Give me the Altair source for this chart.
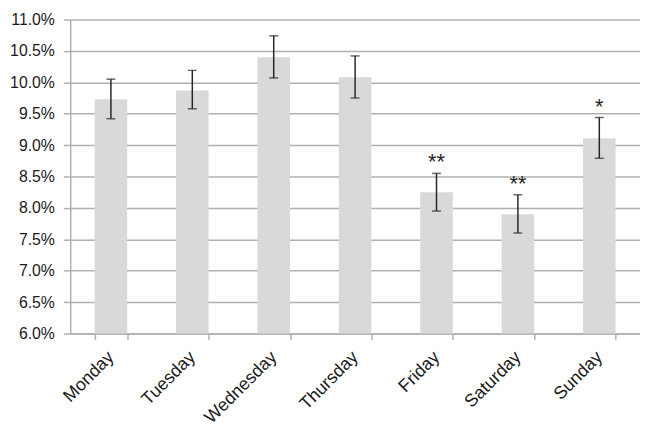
import altair as alt
import pandas as pd

days = ["Monday", "Tuesday", "Wednesday", "Thursday", "Friday", "Saturday", "Sunday"]
means = [9.73, 9.87, 10.40, 10.08, 8.25, 7.90, 9.11]
upper = [10.05, 10.19, 10.74, 10.42, 8.55, 8.21, 9.44]
lower = [9.42, 9.58, 10.07, 9.75, 7.95, 7.60, 8.79]
sig = ["", "", "", "", "**", "**", "*"]
y_ticks = [6.0, 6.5, 7.0, 7.5, 8.0, 8.5, 9.0, 9.5, 10.0, 10.5, 11.0]

df = pd.DataFrame({
    "day": days,
    "mean": [m / 100 for m in means],
    "upper": [u / 100 for u in upper],
    "lower": [l / 100 for l in lower],
    "sig": sig,
})

FONT = "Liberation Sans"
TXT = "#1a1a1a"
GRID = "#b0b0b0"

xscale = alt.Scale(paddingInner=0.6, paddingOuter=0.3)
yscale = alt.Scale(domain=[0.06, 0.11], nice=False, zero=False)

x_axis = alt.Axis(labelAngle=-45, labelAlign="right", labelBaseline="middle",
                  labelFont=FONT, labelFontSize=18, labelColor=TXT,
                  labelPadding=15, labelOffset=0, tickBand="extent", tickSize=6,
                  tickColor=GRID, tickWidth=1.5, domainColor=GRID, title=None,
                  domainWidth=1.5, grid=False, labelOverlap=False)
y_axis = alt.Axis(values=[v / 100 for v in y_ticks], format=".1%", title=None,
                  labelFont=FONT, labelFontSize=16, labelColor=TXT,
                  labelPadding=9, tickSize=7, tickColor=GRID, tickWidth=1.5,
                  domainColor=GRID, domainWidth=1.5, labelOverlap=False,
                  gridColor=GRID, gridWidth=1.5)

xs = alt.X("day:N", sort=days, scale=xscale, axis=x_axis, title=None)

def ys(field):
    return alt.Y(field, scale=yscale, axis=y_axis, title=None)

base = alt.Chart(df)

bars = base.mark_bar(color="#d9d9d9", clip=True).encode(x=xs, y=ys("mean:Q"))

err = base.mark_rule(color="#262626", strokeWidth=1.5).encode(
    x=xs, y=ys("lower:Q"), y2="upper:Q",
)
cap_hi = base.mark_tick(color="#262626", thickness=1.5, size=9).encode(
    x=xs, y=ys("upper:Q"),
)
cap_lo = base.mark_tick(color="#262626", thickness=1.5, size=9).encode(
    x=xs, y=ys("lower:Q"),
)
stars = base.mark_text(font=FONT, fontSize=22, color="#262626",
                       baseline="alphabetic", dy=-4).encode(
    x=xs, y=ys("upper:Q"), text="sig:N",
)

chart = alt.layer(bars, err, cap_hi, cap_lo, stars).properties(
    width=577, height=318,
    autosize=alt.AutoSizeParams(type="none"),
    padding={"left": 63, "top": 9, "right": 0, "bottom": 92},
).configure_view(stroke=None)

chart.save("out.html", embed_options={"renderer": "svg", "actions": False})
